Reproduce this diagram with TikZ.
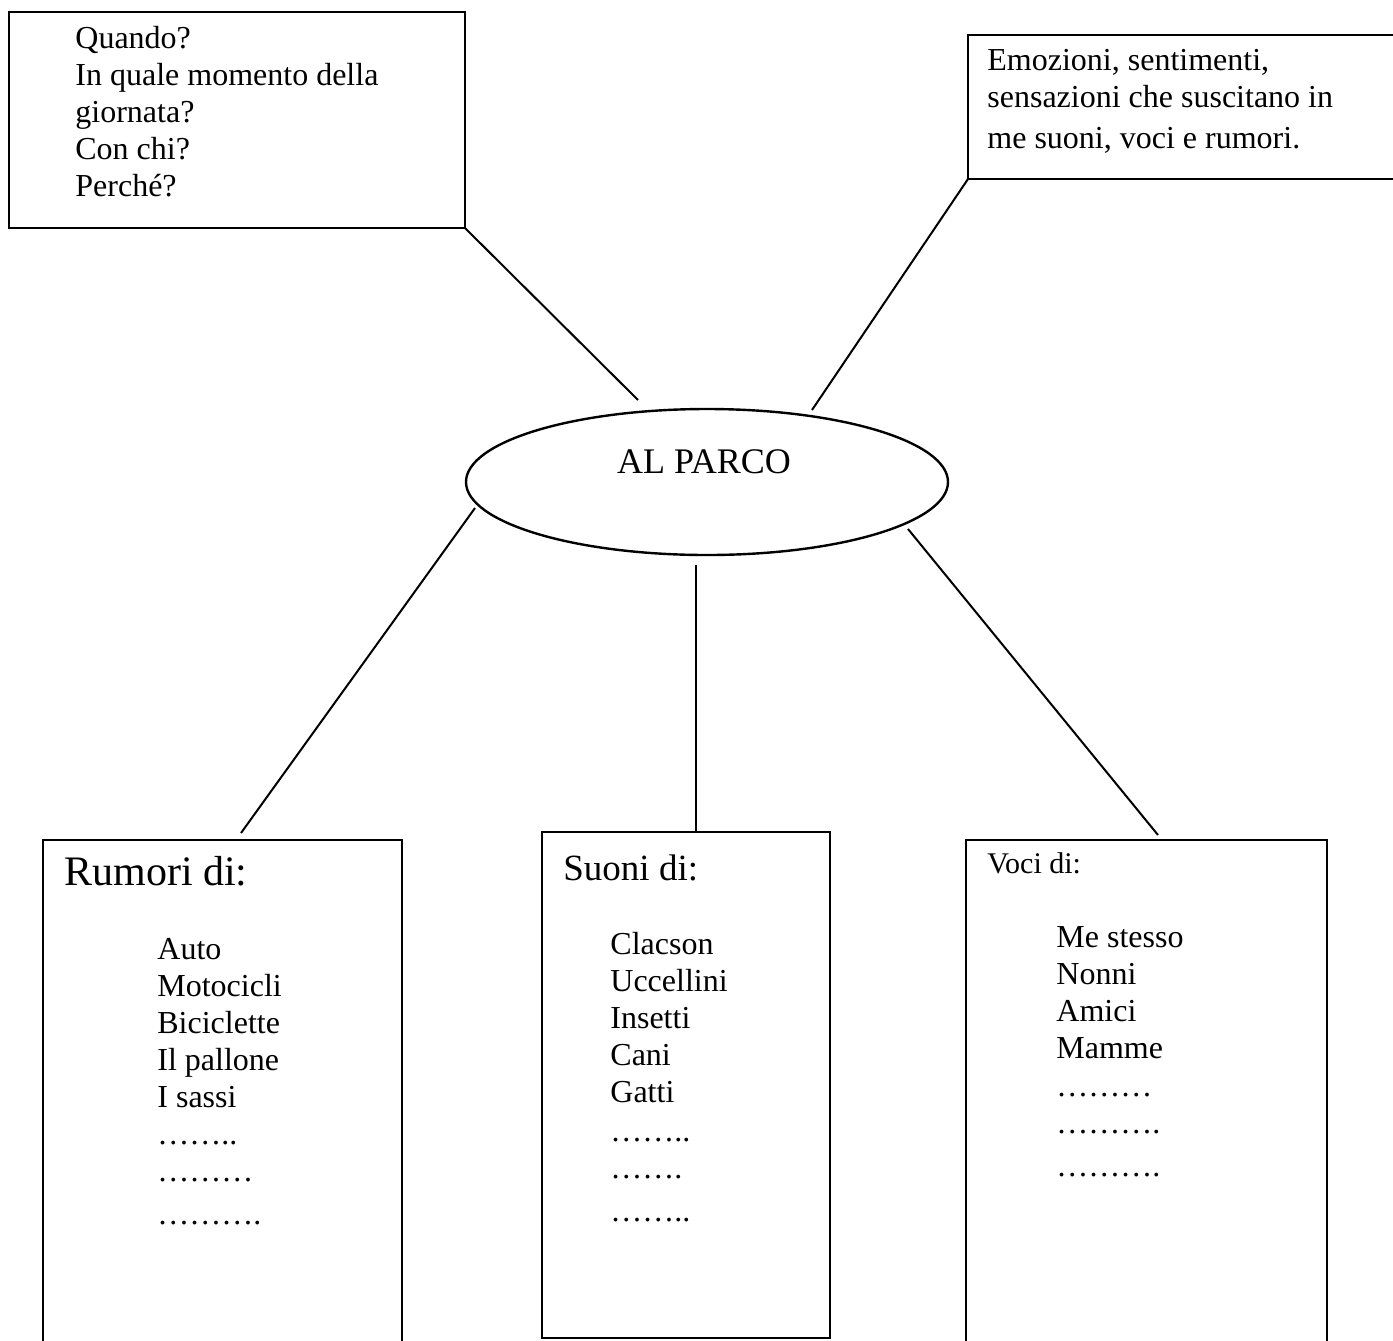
\documentclass[tikz,border=0pt]{standalone}
\usepackage{fontspec}
\setmainfont{Liberation Serif}
\usetikzlibrary{shapes.geometric}
\tikzset{
	box/.style={line width=1.4pt},
	link/.style={line width=1pt},
	txt/.style={anchor=base west, inner sep=0pt, align=left, font=\fontsize{16}{18.5}\selectfont},
}

\begin{document}
\begin{tikzpicture}[x=0.5pt, y=-0.5pt]
			%%%%% START %%%%%
			\useasboundingbox (0, 0) rectangle (1393, 1340);
			
			% caselle in alto (testi: ancorati all'ultima riga)
			\draw[box] (9, 12) rectangle (465, 228);
			\coordinate (angolosx) at (465, 228);
			\node[txt] (quando) at (75, 196) {Quando?\\In quale momento della\\giornata?\\Con chi?\\Perché?};
			
			\draw[box] (1400, 35) -- (968, 35) -- (968, 179) -- (1400, 179);
			\coordinate (angolodx) at (968, 179);
			\node[txt] (emozioni) at (987, 148) {Emozioni, sentimenti,\\sensazioni che suscitano in\\[2pt]me suoni, voci e rumori.};
			
			% centro
			\node[draw, ellipse, line width=1.2pt, minimum width=241pt, minimum height=73pt] (parco) at (707, 482) {};
			\node[anchor=base, inner sep=0pt, font=\fontsize{18}{20}\selectfont] (titolo) at (704, 473) {AL PARCO};
			
			% caselle in basso
			\draw[box] (43, 1345) -- (43, 840) -- (402, 840) -- (402, 1345);
			\draw[box] (542, 832) rectangle (830, 1338);
			\draw[box] (966, 1345) -- (966, 840) -- (1327, 840) -- (1327, 1345);
			
			\node[txt, font=\fontsize{21}{24}\selectfont] (rumori) at (64, 885) {Rumori di:};
			\node[txt] (listarumori) at (157, 1224) {Auto\\Motocicli\\Biciclette\\Il pallone\\I sassi\\……..\\………\\[3pt]……….};
			
			\node[txt, font=\fontsize{18.5}{21}\selectfont] (suoni) at (563, 880) {Suoni di:};
			\node[txt] (listasuoni) at (610, 1221) {Clacson\\Uccellini\\Insetti\\Cani\\Gatti\\[1pt]……..\\…….\\[3pt]……..};
			
			\node[txt, font=\fontsize{15}{18}\selectfont] (voci) at (987, 873) {Voci di:};
			\node[txt] (listavoci) at (1056, 1176) {Me stesso\\Nonni\\Amici\\Mamme\\[0.5pt]………\\……….\\[3pt]……….};
			
			% collegamenti
			\coordinate (a1) at (638, 400);
			\coordinate (a2) at (812, 410);
			\coordinate (b1) at (475, 508);
			\coordinate (b2) at (241, 833);
			\coordinate (c1) at (696, 565);
			\coordinate (c2) at (696, 832);
			\coordinate (d1) at (908, 529);
			\coordinate (d2) at (1158, 835);
			\draw[link] (angolosx) -- (a1);
			\draw[link] (angolodx) -- (a2);
			\draw[link] (b1) -- (b2);
			\draw[link] (c1) -- (c2);
			\draw[link] (d1) -- (d2);
			
			%%%%% END %%%%%
\end{tikzpicture}
\end{document}
